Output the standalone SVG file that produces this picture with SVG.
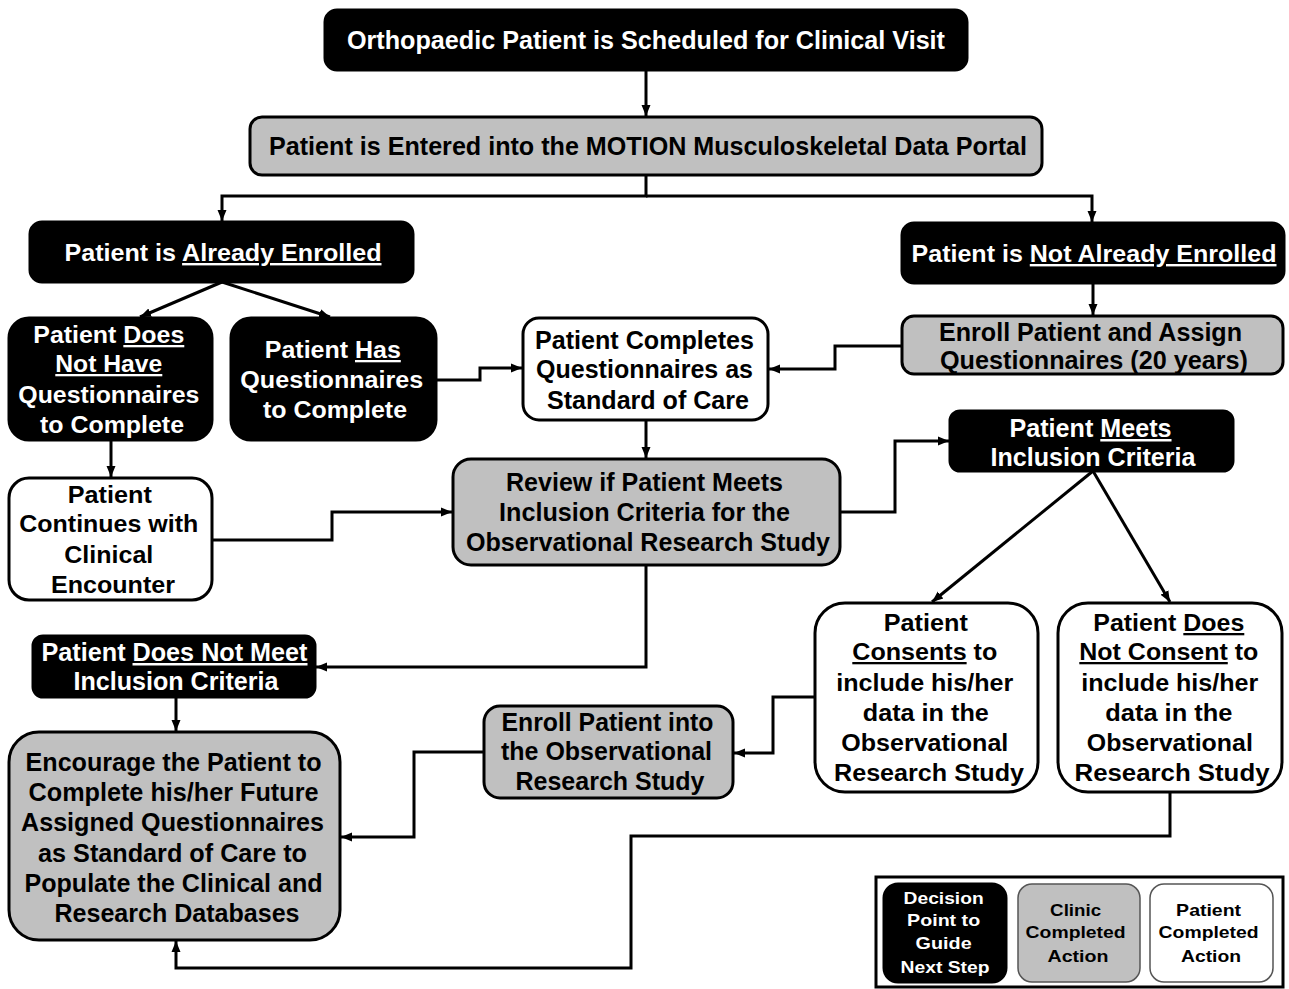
<svg xmlns="http://www.w3.org/2000/svg" width="1289" height="989" viewBox="0 0 1289 989">
<style>
.t{font-family:"Liberation Sans",Arial,sans-serif;font-weight:bold;text-anchor:middle}
.w{fill:#fff}
.k{fill:#000}
.bb{fill:#000;stroke:#000;stroke-width:3}
.gb{fill:#c0c0c0;stroke:#000;stroke-width:3}
.wb{fill:#fff;stroke:#000;stroke-width:3}
.c{fill:none;stroke:#000;stroke-width:3}
.u{text-decoration:underline}
</style>
<defs>
<marker id="ah" markerUnits="userSpaceOnUse" markerWidth="12" markerHeight="12" refX="11" refY="6" orient="auto">
<path d="M0,1.5 L11,6 L0,10.5 z" fill="#000"/>
</marker>
</defs>
<rect width="1289" height="989" fill="#fff"/>
<g id="connectors" marker-end="url(#ah)">
<path class="c" d="M646,70 V116"/>
<path class="c" d="M646,175 V196 H222 V221"/>
<path class="c" d="M646,196 H1092 V222"/>
<path class="c" d="M222,282 L140,317"/>
<path class="c" d="M222,282 L330,317"/>
<path class="c" d="M1093,283 V315"/>
<path class="c" d="M902,346 H835 V369 H769"/>
<path class="c" d="M436,380 H480 V368 H522"/>
<path class="c" d="M111,440 V477"/>
<path class="c" d="M646,420 V458"/>
<path class="c" d="M212,540 H332 V512 H452"/>
<path class="c" d="M840,512 H895 V441 H949"/>
<path class="c" d="M1093,471 L932,602"/>
<path class="c" d="M1093,471 L1170,602"/>
<path class="c" d="M646,565 V667 H316"/>
<path class="c" d="M176,697 V731"/>
<path class="c" d="M815,697 H773 V753 H734"/>
<path class="c" d="M484,752 H414 V837 H341"/>
<path class="c" d="M1170,792 V836 H631 V968 H176 V941"/>
</g>
<g id="n-scheduled">
<rect class="bb" x="325" y="10" width="642" height="60" rx="12"/>
<text class="t w" x="646" y="49" font-size="25" textLength="598" lengthAdjust="spacingAndGlyphs">Orthopaedic Patient is Scheduled for Clinical Visit</text>
</g>
<g id="n-portal">
<rect class="gb" x="250" y="117" width="792" height="58" rx="12"/>
<text class="t k" x="648" y="155" font-size="25" textLength="758" lengthAdjust="spacingAndGlyphs">Patient is Entered into the MOTION Musculoskeletal Data Portal</text>
</g>
<g id="n-already">
<rect class="bb" x="30" y="222" width="383" height="60" rx="12"/>
<text class="t w" x="223" y="261" font-size="24" textLength="317" lengthAdjust="spacingAndGlyphs">Patient is <tspan class="u">Already Enrolled</tspan></text>
</g>
<g id="n-notalready">
<rect class="bb" x="902" y="223" width="382" height="60" rx="12"/>
<text class="t w" x="1094" y="262" font-size="24" textLength="365" lengthAdjust="spacingAndGlyphs">Patient is <tspan class="u">Not Already Enrolled</tspan></text>
</g>
<g id="n-doesnothave">
<rect class="bb" x="9" y="318" width="203" height="122" rx="20"/>
<text class="t w" font-size="23">
<tspan x="112" y="343" textLength="151" lengthAdjust="spacingAndGlyphs">Patient <tspan class="u">Does</tspan></tspan>
<tspan x="112" y="372" class="u" textLength="107" lengthAdjust="spacingAndGlyphs">Not Have</tspan>
<tspan x="112" y="403" textLength="181" lengthAdjust="spacingAndGlyphs">Questionnaires</tspan>
<tspan x="112" y="433" textLength="144" lengthAdjust="spacingAndGlyphs">to Complete</tspan>
</text>
</g>
<g id="n-has">
<rect class="bb" x="231" y="318" width="205" height="122" rx="20"/>
<text class="t w" font-size="23">
<tspan x="336" y="358" textLength="136" lengthAdjust="spacingAndGlyphs">Patient <tspan class="u">Has</tspan></tspan>
<tspan x="335" y="388" textLength="183" lengthAdjust="spacingAndGlyphs">Questionnaires</tspan>
<tspan x="335" y="418" textLength="144" lengthAdjust="spacingAndGlyphs">to Complete</tspan>
</text>
</g>
<g id="n-completes">
<rect class="wb" x="523" y="318" width="245" height="102" rx="16"/>
<text class="t k" font-size="25">
<tspan x="648" y="349" textLength="219" lengthAdjust="spacingAndGlyphs">Patient Completes</tspan>
<tspan x="648" y="378" textLength="217" lengthAdjust="spacingAndGlyphs">Questionnaires as</tspan>
<tspan x="648" y="409" textLength="202" lengthAdjust="spacingAndGlyphs">Standard of Care</tspan>
</text>
</g>
<g id="n-enrollassign">
<rect class="gb" x="902" y="316" width="381" height="58" rx="12"/>
<text class="t k" font-size="25">
<tspan x="1094" y="341" textLength="303" lengthAdjust="spacingAndGlyphs">Enroll Patient and Assign</tspan>
<tspan x="1094" y="369" textLength="308" lengthAdjust="spacingAndGlyphs">Questionnaires (20 years)</tspan>
</text>
</g>
<g id="n-continues">
<rect class="wb" x="9" y="478" width="203" height="122" rx="20"/>
<text class="t k" font-size="23">
<tspan x="113" y="503" textLength="84" lengthAdjust="spacingAndGlyphs">Patient</tspan>
<tspan x="112" y="532" textLength="179" lengthAdjust="spacingAndGlyphs">Continues with</tspan>
<tspan x="112" y="563" textLength="89" lengthAdjust="spacingAndGlyphs">Clinical</tspan>
<tspan x="113" y="593" textLength="124" lengthAdjust="spacingAndGlyphs">Encounter</tspan>
</text>
</g>
<g id="n-review">
<rect class="gb" x="453" y="459" width="387" height="106" rx="18"/>
<text class="t k" font-size="25">
<tspan x="648" y="491" textLength="277" lengthAdjust="spacingAndGlyphs">Review if Patient Meets</tspan>
<tspan x="648" y="521" textLength="291" lengthAdjust="spacingAndGlyphs">Inclusion Criteria for the</tspan>
<tspan x="648" y="551" textLength="364" lengthAdjust="spacingAndGlyphs">Observational Research Study</tspan>
</text>
</g>
<g id="n-meets">
<rect class="bb" x="950" y="411" width="283" height="60" rx="10"/>
<text class="t w" font-size="25">
<tspan x="1094" y="437" textLength="162" lengthAdjust="spacingAndGlyphs">Patient <tspan class="u">Meets</tspan></tspan>
<tspan x="1093" y="466" textLength="205" lengthAdjust="spacingAndGlyphs">Inclusion Criteria</tspan>
</text>
</g>
<g id="n-consents">
<rect class="wb" x="815" y="603" width="223" height="189" rx="30"/>
<text class="t k" font-size="23">
<tspan x="929" y="631" textLength="84" lengthAdjust="spacingAndGlyphs">Patient</tspan>
<tspan x="928" y="660" textLength="145" lengthAdjust="spacingAndGlyphs"><tspan class="u">Consents</tspan> to</tspan>
<tspan x="928" y="691" textLength="177" lengthAdjust="spacingAndGlyphs">include his/her</tspan>
<tspan x="929" y="721" textLength="126" lengthAdjust="spacingAndGlyphs">data in the</tspan>
<tspan x="928" y="751" textLength="167" lengthAdjust="spacingAndGlyphs">Observational</tspan>
<tspan x="929" y="781" textLength="190" lengthAdjust="spacingAndGlyphs">Research Study</tspan>
</text>
</g>
<g id="n-notconsent">
<rect class="wb" x="1058" y="603" width="224" height="189" rx="30"/>
<text class="t k" font-size="23">
<tspan x="1172" y="631" textLength="151" lengthAdjust="spacingAndGlyphs">Patient <tspan class="u">Does</tspan></tspan>
<tspan x="1172" y="660" textLength="179" lengthAdjust="spacingAndGlyphs"><tspan class="u">Not Consent</tspan> to</tspan>
<tspan x="1173" y="691" textLength="177" lengthAdjust="spacingAndGlyphs">include his/her</tspan>
<tspan x="1172" y="721" textLength="127" lengthAdjust="spacingAndGlyphs">data in the</tspan>
<tspan x="1173" y="751" textLength="166" lengthAdjust="spacingAndGlyphs">Observational</tspan>
<tspan x="1172" y="781" textLength="195" lengthAdjust="spacingAndGlyphs">Research  Study</tspan>
</text>
</g>
<g id="n-notmeet">
<rect class="bb" x="33" y="636" width="282" height="61" rx="10"/>
<text class="t w" font-size="25">
<tspan x="178" y="661" textLength="266" lengthAdjust="spacingAndGlyphs">Patient <tspan class="u">Does Not Meet</tspan></tspan>
<tspan x="176" y="690" textLength="205" lengthAdjust="spacingAndGlyphs">Inclusion Criteria</tspan>
</text>
</g>
<g id="n-enrollobs">
<rect class="gb" x="484" y="706" width="249" height="92" rx="16"/>
<text class="t k" font-size="25">
<tspan x="611" y="731" textLength="212" lengthAdjust="spacingAndGlyphs">Enroll Patient into</tspan>
<tspan x="610" y="760" textLength="211" lengthAdjust="spacingAndGlyphs">the Observational</tspan>
<tspan x="610" y="790" textLength="189" lengthAdjust="spacingAndGlyphs">Research Study</tspan>
</text>
</g>
<g id="n-encourage">
<rect class="gb" x="9" y="732" width="331" height="208" rx="30"/>
<text class="t k" font-size="25">
<tspan x="177" y="771" textLength="296" lengthAdjust="spacingAndGlyphs">Encourage the Patient to</tspan>
<tspan x="177" y="801" textLength="290" lengthAdjust="spacingAndGlyphs">Complete his/her Future</tspan>
<tspan x="176" y="831" textLength="303" lengthAdjust="spacingAndGlyphs">Assigned Questionnaires</tspan>
<tspan x="176" y="862" textLength="269" lengthAdjust="spacingAndGlyphs">as Standard of Care to</tspan>
<tspan x="177" y="892" textLength="298" lengthAdjust="spacingAndGlyphs">Populate the Clinical and</tspan>
<tspan x="177" y="922" textLength="245" lengthAdjust="spacingAndGlyphs">Research Databases</tspan>
</text>
</g>
<g id="legend">
<rect x="876" y="877" width="407" height="110" fill="#fff" stroke="#000" stroke-width="3"/>
<g id="legend-decision">
<rect class="bb" x="884" y="884" width="122" height="98" rx="14"/>
<text class="t w" font-size="17">
<tspan x="946" y="904" textLength="80" lengthAdjust="spacingAndGlyphs">Decision</tspan>
<tspan x="946" y="926" textLength="73" lengthAdjust="spacingAndGlyphs">Point to</tspan>
<tspan x="946" y="949" textLength="56" lengthAdjust="spacingAndGlyphs">Guide</tspan>
<tspan x="945" y="973" textLength="89" lengthAdjust="spacingAndGlyphs">Next Step</tspan>
</text>
</g>
<g id="legend-clinic">
<rect x="1018" y="884" width="122" height="98" rx="14" fill="#c0c0c0" stroke="#555" stroke-width="1.5"/>
<text class="t k" font-size="17">
<tspan x="1078" y="916" textLength="51" lengthAdjust="spacingAndGlyphs">Clinic</tspan>
<tspan x="1078" y="938" textLength="100" lengthAdjust="spacingAndGlyphs">Completed</tspan>
<tspan x="1078" y="962" textLength="61" lengthAdjust="spacingAndGlyphs">Action</tspan>
</text>
</g>
<g id="legend-patient">
<rect x="1150" y="884" width="123" height="98" rx="14" fill="#fff" stroke="#555" stroke-width="1.5"/>
<text class="t k" font-size="17">
<tspan x="1211" y="916" textLength="65" lengthAdjust="spacingAndGlyphs">Patient</tspan>
<tspan x="1211" y="938" textLength="100" lengthAdjust="spacingAndGlyphs">Completed</tspan>
<tspan x="1211" y="962" textLength="60" lengthAdjust="spacingAndGlyphs">Action</tspan>
</text>
</g>
</g>
</svg>
